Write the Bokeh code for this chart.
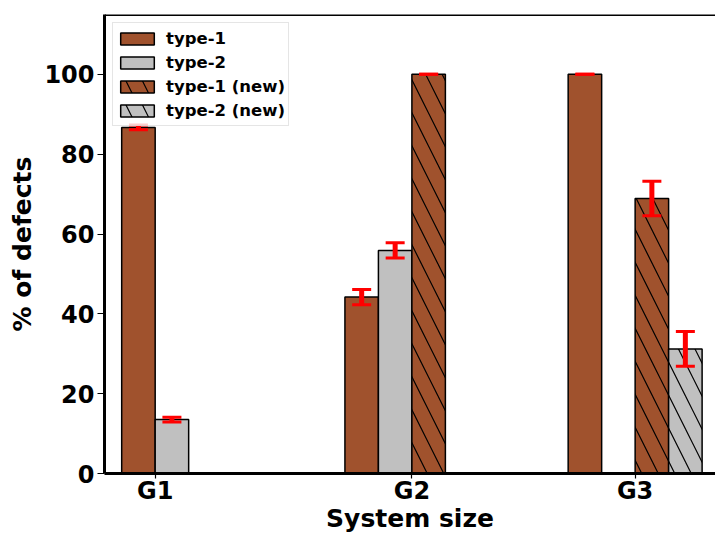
import math

from bokeh.embed import file_html
from bokeh.models import (ColumnDataSource, FixedTicker, Legend, LegendItem,
                          Range1d, Span)
from bokeh.plotting import figure
from bokeh.resources import INLINE

nan = math.nan

# ---- data -----------------------------------------------------------------
groups = ["G1", "G2", "G3"]
series_names = ["type-1", "type-2", "type-1 (new)", "type-2 (new)"]

# % of defects per group (nan = series not measured for that group)
type1 = [86.7, 44.2, 100.0]
type2 = [13.5, 55.9, 0.0]
type1_new = [nan, 100.0, 68.9]
type2_new = [nan, 0.0, 31.2]

# symmetric error of each value
type1_err = [0.6, 1.9, 0.0]
type2_err = [0.6, 1.9, 0.0]
type1_new_err = [nan, 0.0, 4.35]
type2_new_err = [nan, 0.0, 4.35]

y_ticks = [0, 20, 40, 60, 80, 100]

# ---- styling ----------------------------------------------------------------
BAR_W = 0.15
FONT = "DejaVu Sans"
SIENNA = "#a0522d"
SILVER = "#c0c0c0"

series = [
    (type1, type1_err, SIENNA, " "),
    (type2, type2_err, SILVER, " "),
    (type1_new, type1_new_err, SIENNA, "\\"),
    (type2_new, type2_new_err, SILVER, "\\"),
]

p = figure(
    width=715, height=535,
    output_backend="svg", toolbar_location=None,
    x_range=Range1d(-0.152, 2.585), y_range=Range1d(0, 115),
    min_border_left=104, min_border_right=0,
    min_border_top=14, min_border_bottom=62,
    background_fill_color="white", border_fill_color="white",
)
p.outline_line_color = None
p.xgrid.visible = False
p.ygrid.visible = False

legend_items = []
sources = []
for k, (vals, errs, color, hatch) in enumerate(series):
    xs, tops, lows, ups = [], [], [], []
    for g, (v, e) in enumerate(zip(vals, errs)):
        if math.isnan(v):
            continue
        xs.append(g + k * BAR_W)
        tops.append(v)
        lows.append(v - e)
        ups.append(v + e)
    src = ColumnDataSource(dict(x=xs, top=tops, lower=lows, upper=ups))
    r = p.vbar(x="x", top="top", bottom=0, width=BAR_W, source=src,
               fill_color=color, line_color="black", line_width=1.5,
               hatch_pattern=hatch, hatch_color="black",
               hatch_scale=33, hatch_weight=1.2)
    legend_items.append(LegendItem(label=series_names[k], renderers=[r]))
    sources.append(src)

# error bars on top of all bars
for src in sources:
    p.segment(x0="x", y0="lower", x1="x", y1="upper", source=src,
              line_color="red", line_width=5)
    p.scatter(x="x", y="upper", marker="dash", size=19, source=src,
              line_color="red", line_width=3)
    p.scatter(x="x", y="lower", marker="dash", size=19, source=src,
              line_color="red", line_width=3)

# group ticks sit at the middle of the bars each group has
group_ticks = []
for g in range(len(groups)):
    n = sum(0 if math.isnan(s[g]) else 1
            for s in (type1, type2, type1_new, type2_new))
    group_ticks.append(g + (n - 1) / 2 * BAR_W)

xa = p.xaxis[0]
xa.ticker = FixedTicker(ticks=group_ticks)
xa.major_label_overrides = {t: name for t, name in zip(group_ticks, groups)}
xa.axis_label = "System size"

ya = p.yaxis[0]
ya.ticker = FixedTicker(ticks=y_ticks)
ya.axis_label = "% of defects"

for ax, tick_out in ((xa, 5), (ya, 7)):
    ax.axis_line_width = 3
    ax.axis_line_color = "black"
    ax.major_tick_line_width = 1.2
    ax.major_tick_line_color = "black"
    ax.major_tick_out = tick_out
    ax.major_tick_in = 0
    ax.minor_tick_out = 0
    ax.minor_tick_in = 0
    ax.major_label_text_font = FONT
    ax.major_label_text_font_style = "bold"
    ax.major_label_text_font_size = "24px"
    ax.major_label_text_color = "black"
    ax.axis_label_text_font = FONT
    ax.axis_label_text_font_style = "bold"
    ax.axis_label_text_font_size = "25px"
    ax.axis_label_text_color = "black"

# tight stacking of the labels under the x axis
xa.major_label_standoff = -2
xa.axis_label_standoff = -4
ya.major_label_standoff = 3
ya.axis_label_standoff = 4

# top spine
p.add_layout(Span(location=115, dimension="width",
                  line_color="black", line_width=3))

legend = Legend(
    items=legend_items, location="top_left", margin=8, padding=3,
    spacing=0, label_height=24, glyph_height=15, glyph_width=42,
    label_standoff=8,
    label_text_font=FONT, label_text_font_style="bold",
    label_text_font_size="16.5px", label_text_color="black",
    border_line_color="#cccccc", border_line_width=1,
    background_fill_color="white", background_fill_alpha=0.8,
)
p.add_layout(legend)

open("out.html", "w").write(file_html(p, INLINE))
